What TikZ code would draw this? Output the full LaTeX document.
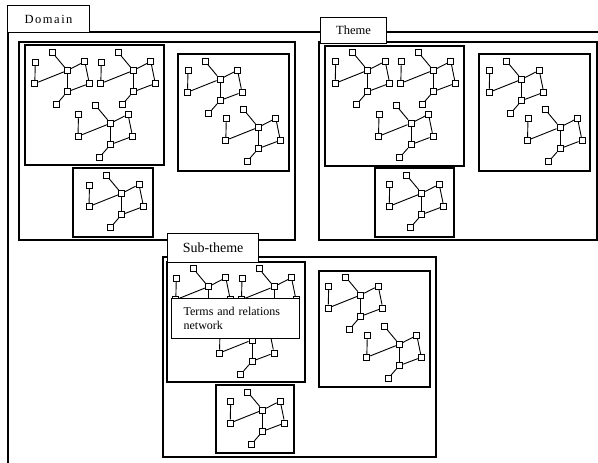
\documentclass[tikz,border=0pt]{standalone}
\usepackage{fontspec}
\setmainfont{Liberation Serif}
\tikzset{
  box/.style={draw, line width=1.3pt},
  tabbox/.style={draw, fill=white, line width=1.2pt, inner sep=0pt, anchor=north west},
  sq/.style={draw, fill=white, minimum size=6pt, inner sep=0pt, line width=0.9pt},
  link/.style={line width=0.9pt},
  vlink/.style={line width=0.6pt},
}
\newcommand\netw[3]{%
  \begin{scope}[shift={(#2,#3)}]
    \node[sq] (#1-1) at (-32,-8.5) {};
    \node[sq] (#1-2) at (-15,-18) {};
    \node[sq] (#1-3) at (0,0) {};
    \node[sq] (#1-4) at (17.5,-9) {};
    \node[sq] (#1-5) at (-32.5,13) {};
    \node[sq] (#1-6) at (22,13) {};
    \node[sq] (#1-7) at (0,21.3) {};
    \node[sq] (#1-8) at (-11.3,34.3) {};
  \end{scope}
  \draw[link] (#1-1) -- (#1-5) -- (#1-3) -- (#1-4) -- (#1-6) -- (#1-7) -- (#1-8);
  \draw[link] (#1-2) -- (#1-3);
  \draw[vlink] (#1-3) -- (#1-7);
}
\begin{document}
\begin{tikzpicture}[x=1pt,y=-1pt]
\useasboundingbox (0,0) rectangle (598,463);
\clip (0,0) rectangle (598,463);
% Domain outer box
\draw[box, line width=1.5pt] (8,32) rectangle (640,500);
% left inner group
\draw[box] (19,42) rectangle (295,240);
\draw[box] (25,45) rectangle (164,165);
\draw[box] (178,54) rectangle (289,171);
\draw[box] (73,168) rectangle (153,237);
\netw{a1}{67.3}{70.5}
\netw{a2}{133.3}{70.5}
\netw{a3}{110.5}{123.3}
\netw{b1}{220}{79.2}
\netw{b2}{258.3}{127.3}
\netw{c1}{121.5}{193.5}
% Theme group
\draw[box] (319,42) rectangle (597,240);
\draw[box] (325,46) rectangle (464,166);
\draw[box] (479,54) rectangle (590,171);
\draw[box] (375,168) rectangle (454,237);
\netw{ta1}{367.7}{70.3}
\netw{ta2}{433.3}{70.3}
\netw{ta3}{411}{123.3}
\netw{tb1}{521.7}{79.3}
\netw{tb2}{560}{127.3}
\netw{tc1}{421.7}{193.3}
% Sub-theme group
\draw[box] (163,257) rectangle (436,457);
\draw[box] (167,262) rectangle (305,382);
\draw[box] (319,271) rectangle (430,387);
\draw[box] (216,385) rectangle (294,453);
\netw{sa1}{208.3}{286.7}
\netw{sa2}{274}{286.7}
\netw{sa3}{252}{340}
\netw{sb1}{360.7}{295}
\netw{sb2}{399.3}{344.3}
\netw{sc1}{262.7}{410}
% tabs
\node[tabbox, minimum width=82pt, minimum height=27pt, font=\fontsize{12.5}{14}\selectfont\addfontfeature{LetterSpace=12}] (domtab) at (7,5) {Domain};
\node[tabbox, minimum width=66pt, minimum height=26pt, font=\fontsize{12.5}{14}\selectfont] (themetab) at (320,17) {Theme};
\node[tabbox, minimum width=91pt, minimum height=29pt, font=\fontsize{14}{16}\selectfont] (subtab) at (167,233) {Sub-theme};
\node[tabbox, minimum width=128pt, minimum height=40pt, inner xsep=12pt, text width=104pt, align=left, font=\fontsize{12}{14}\selectfont] (termsbox) at (171,298) {Terms and relations\\network};
\end{tikzpicture}
\end{document}
